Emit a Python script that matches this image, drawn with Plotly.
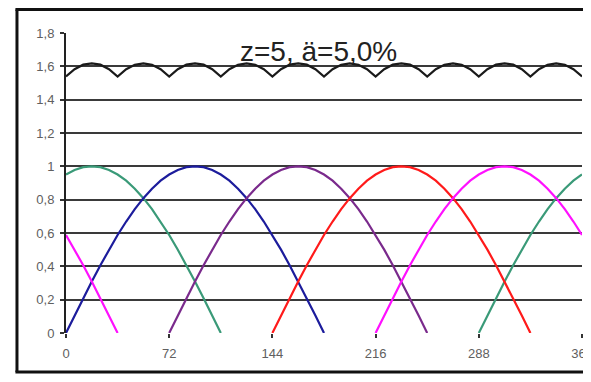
import plotly.graph_objects as go

# phase angle (degrees), sampled every 6 degrees
angles = list(range(0, 361, 6))

# values (half-sine humps, one per phase)
blue = [0.000, 0.105, 0.208, 0.309, 0.407, 0.500, 0.588, 0.669, 0.743, 0.809, 0.866,
        0.914, 0.951, 0.978, 0.995, 1.000, 0.995, 0.978, 0.951, 0.914, 0.866, 0.809,
        0.743, 0.669, 0.588, 0.500, 0.407, 0.309, 0.208, 0.105, 0.000] + [None] * 30
purple = [None] * 12 + [0.000, 0.105, 0.208, 0.309, 0.407, 0.500, 0.588, 0.669, 0.743,
        0.809, 0.866, 0.914, 0.951, 0.978, 0.995, 1.000, 0.995, 0.978, 0.951, 0.914,
        0.866, 0.809, 0.743, 0.669, 0.588, 0.500, 0.407, 0.309, 0.208, 0.105, 0.000] + [None] * 18
red = [None] * 24 + [0.000, 0.105, 0.208, 0.309, 0.407, 0.500, 0.588, 0.669, 0.743,
        0.809, 0.866, 0.914, 0.951, 0.978, 0.995, 1.000, 0.995, 0.978, 0.951, 0.914,
        0.866, 0.809, 0.743, 0.669, 0.588, 0.500, 0.407, 0.309, 0.208, 0.105, 0.000] + [None] * 6
magenta = [0.588, 0.500, 0.407, 0.309, 0.208, 0.105, 0.000] + [None] * 29 + [
        0.000, 0.105, 0.208, 0.309, 0.407, 0.500, 0.588, 0.669, 0.743, 0.809, 0.866,
        0.914, 0.951, 0.978, 0.995, 1.000, 0.995, 0.978, 0.951, 0.914, 0.866, 0.809,
        0.743, 0.669, 0.588]
green = [0.951, 0.978, 0.995, 1.000, 0.995, 0.978, 0.951, 0.914, 0.866, 0.809, 0.743,
         0.669, 0.588, 0.500, 0.407, 0.309, 0.208, 0.105, 0.000] + [None] * 29 + [
         0.000, 0.105, 0.208, 0.309, 0.407, 0.500, 0.588, 0.669, 0.743, 0.809, 0.866,
         0.914, 0.951]

# total curve = sum of the active phases
series = [green, blue, purple, red, magenta]
total = [round(sum(v for v in col if v is not None), 3) for col in zip(*series)]

x_ticks = [0, 72, 144, 216, 288, 360]
y_ticks = [0, 0.2, 0.4, 0.6, 0.8, 1, 1.2, 1.4, 1.6, 1.8]
y_labels = ["0", "0,2", "0,4", "0,6", "0,8", "1", "1,2", "1,4", "1,6", "1,8"]
title_text = "z=5, ä=5,0%"

colors = ["#3a9a78", "#1c1c9c", "#7a2a8c", "#ff1a1a", "#ff10ff"]

fig = go.Figure()
for ys, c in zip(series, colors):
    fig.add_trace(go.Scatter(x=angles, y=ys, mode="lines", line=dict(color=c, width=2.2),
                             connectgaps=False, showlegend=False, hoverinfo="skip"))
fig.add_trace(go.Scatter(x=angles, y=total, mode="lines", line=dict(color="#1a1a1a", width=2.2),
                         showlegend=False, hoverinfo="skip"))

frame = dict(color="#111111", width=3)
# the page body adds an 8px margin; size the figure so the page does not scroll
fig.update_layout(
    width=575, height=366,
    margin=dict(l=58, r=1, t=25, b=41, autoexpand=False),
    paper_bgcolor="white", plot_bgcolor="white",
    font=dict(family="Liberation Sans, Arial, sans-serif", color="#606060", size=13),
    xaxis=dict(range=[0, 360], tickvals=x_ticks, ticktext=[str(t) for t in x_ticks],
               showgrid=False, zeroline=False, showline=False, automargin=False,
               ticks="outside", ticklen=4, tickwidth=2, tickcolor="#333333",
               ticklabelstandoff=4, ticklabeloverflow="allow", fixedrange=True),
    yaxis=dict(range=[0, 1.8], tickvals=y_ticks, ticktext=y_labels, automargin=False,
               showgrid=True, gridcolor="#3a3a3a", gridwidth=2,
               zeroline=False, showline=True, linecolor="#222222", linewidth=2,
               ticks="outside", ticklen=4, tickwidth=2, tickcolor="#333333",
               ticklabelstandoff=3, fixedrange=True),
    annotations=[dict(text=title_text, x=0.49, y=0.94, xref="paper", yref="paper",
                      xanchor="center", yanchor="middle", showarrow=False,
                      font=dict(size=28, color="#222222",
                                family="Liberation Sans, Arial, sans-serif"))],
    shapes=[
        dict(type="line", xref="paper", yref="paper", x0=-0.095, x1=-0.095,
             y0=-0.13, y1=1.078, line=frame, layer="above"),
        dict(type="line", xref="paper", yref="paper", x0=-0.098, x1=1.2,
             y0=1.078, y1=1.078, line=frame, layer="above"),
        dict(type="line", xref="paper", yref="paper", x0=-0.098, x1=1.2,
             y0=-0.13, y1=-0.13, line=frame, layer="above"),
    ],
)

fig.write_html("out.html")
